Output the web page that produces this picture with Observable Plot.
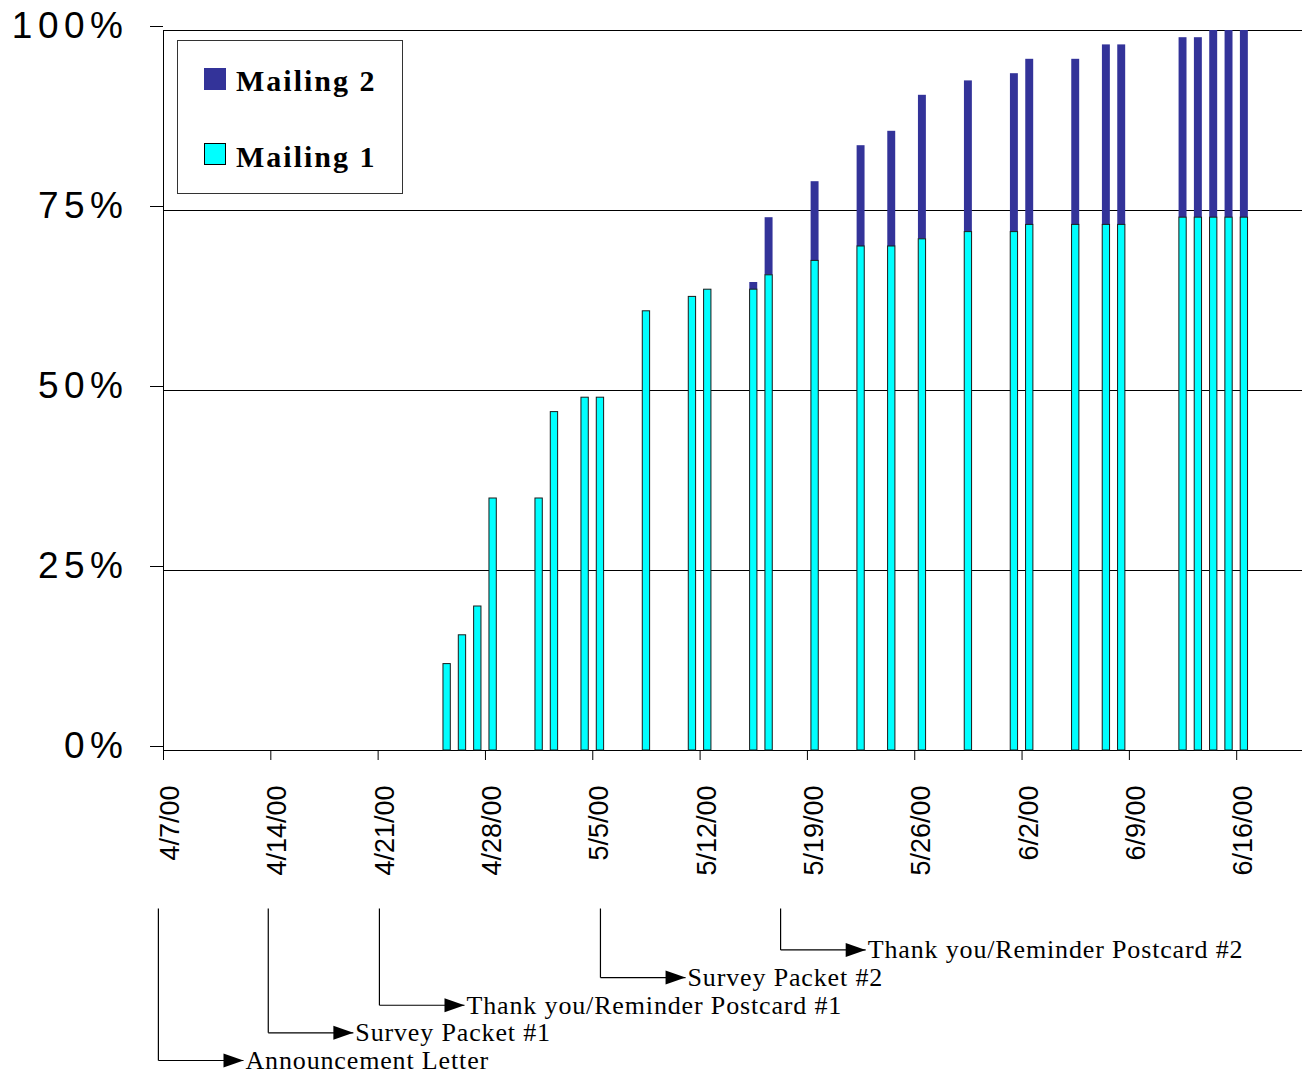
<!DOCTYPE html>
<html><head><meta charset="utf-8">
<script src="https://cdn.jsdelivr.net/npm/d3@7"></script>
<script src="https://cdn.jsdelivr.net/npm/@observablehq/plot@0.6"></script>
<style>
body{margin:0;background:#fff;}
#wrap{position:relative;width:1302px;height:1074px;overflow:hidden;}
#wrap svg{display:block;}
.p1 [aria-label="y-axis tick label"] text{letter-spacing:5.5px;}
.p2 text{letter-spacing:0.85px;}
#legend{position:absolute;left:177px;top:40px;width:224px;height:152px;border:1px solid #333;background:#fff;
  font-family:"Liberation Serif","Times New Roman",serif;font-weight:bold;font-size:30px;letter-spacing:2px;color:#000;}
.sw{position:absolute;left:26px;width:22px;height:22px;box-sizing:border-box;}
.lt{position:absolute;left:58px;line-height:1;white-space:nowrap;}
</style></head>
<body><div id="wrap"></div>
<script>
// ---- data ----
const barDates = ["2000-04-25","2000-04-26","2000-04-27","2000-04-28","2000-05-01","2000-05-02","2000-05-04","2000-05-05",
  "2000-05-08","2000-05-11","2000-05-12","2000-05-15","2000-05-16","2000-05-19","2000-05-22","2000-05-24","2000-05-26",
  "2000-05-29","2000-06-01","2000-06-02","2000-06-05","2000-06-07","2000-06-08","2000-06-12","2000-06-13","2000-06-14",
  "2000-06-15","2000-06-16"];
const mailing1 = [12,16,20,35,35,47,49,49,61,63,64,64,66,68,70,70,71,72,72,73,73,73,73,74,74,74,74,74];
const mailing2 = [0,0,0,0,0,0,0,0,0,0,0,1,8,11,14,16,20,21,22,23,23,25,25,25,25,26,26,26];
const seriesNames = ["Mailing 2","Mailing 1"];
const seriesColors = ["#333399","#00FFFF"];
const xTicks = ["2000-04-07","2000-04-14","2000-04-21","2000-04-28","2000-05-05","2000-05-12","2000-05-19",
  "2000-05-26","2000-06-02","2000-06-09","2000-06-16"];
const yTicks = [0,25,50,75,100];
const xDomain = ["2000-04-07","2000-06-20T07:00Z"];
const eventNames = ["Announcement Letter","Survey Packet #1","Thank you/Reminder Postcard #1","Survey Packet #2","Thank you/Reminder Postcard #2"];
const eventDates = ["2000-04-06T16:00Z","2000-04-13T20:00Z","2000-04-21T02:00Z","2000-05-05T12:00Z","2000-05-17T06:00Z"];
const eventLevels = [0,1,2,3,4];

// ---- tables ----
const rows = barDates.map((d,i)=>({date:d3.isoParse(d), m1:mailing1[i], m2:mailing2[i]}));
const xd = xDomain.map(d3.isoParse);
const tickDates = xTicks.map(d3.isoParse);
const arrowDays = 5.55;
const yTop = 5.5;
const evRows = eventNames.map((n,i)=>{const date=d3.isoParse(eventDates[i]);
  return {name:n, date, tip:new Date(+date + arrowDays*864e5), level:eventLevels[i]};});

const W = 1302, ML = 163, MR = 0;
const wrap = document.getElementById("wrap");

const p1 = Plot.plot({
  width: W, height: 900, marginLeft: ML, marginRight: MR, marginTop: 30, marginBottom: 150,
  className: "p1",
  style: {fontFamily: "'Liberation Sans', Arial, sans-serif", background: "#fff", color: "#000", overflow: "visible"},
  x: {type: "utc", domain: xd},
  y: {domain: [0,100]},
  marks: [
    Plot.ruleY(yTicks, {stroke: "#000", strokeWidth: 1}),
    Plot.ruleX([xd[0]], {y1: 0, y2: 100, stroke: "#000"}),
    Plot.rect(rows.filter(d=>d.m2>0), {x1: "date", x2: d=>d3.utcDay.offset(d.date,1), y1: "m1", y2: d=>d.m1+d.m2,
      fill: seriesColors[0], insetLeft: 3.7, insetRight: 3.7}),
    Plot.rect(rows, {x1: "date", x2: d=>d3.utcDay.offset(d.date,1), y1: 0, y2: "m1",
      fill: seriesColors[1], stroke: "#1a1a1a", strokeWidth: 1, insetLeft: 4, insetRight: 4}),
    Plot.axisY({ticks: yTicks, tickSize: 13, tickPadding: 22, tickFormat: d=>d+"%", fontSize: 37, label: null, dy: -4}),
    Plot.axisX({ticks: tickDates, tickSize: 10, tickFormat: () => "", label: null}),
    Plot.axisX({ticks: tickDates, tickSize: 0, tickPadding: 35, tickRotate: -90,
      tickFormat: d3.utcFormat("%-m/%-d/%y"), fontSize: 27, label: null, dx: 7, textAnchor: "end", lineAnchor: "middle"})
  ]
});
wrap.appendChild(p1);

const arrowHead = {draw(ctx){ ctx.moveTo(0,0); ctx.lineTo(-20,-7); ctx.lineTo(-20,7); ctx.closePath(); }};
const p2 = Plot.plot({
  width: W, height: 174, marginLeft: ML, marginRight: MR, marginTop: 8, marginBottom: 14,
  className: "p2",
  style: {fontFamily: "'Liberation Serif', 'Times New Roman', serif", background: "#fff", color: "#000", overflow: "visible"},
  x: {type: "utc", domain: xd, axis: null},
  y: {domain: [0, yTop], axis: null},
  marks: [
    Plot.link(evRows, {x1: "date", x2: "date", y1: yTop, y2: "level", stroke: "#000", strokeWidth: 1.2}),
    Plot.link(evRows, {x1: "date", x2: "tip", y1: "level", y2: "level", stroke: "#000", strokeWidth: 1.2}),
    Plot.dot(evRows, {x: "tip", y: "level", symbol: arrowHead, fill: "#000", stroke: "none"}),
    Plot.text(evRows, {x: "tip", y: "level", text: "name", textAnchor: "start", dx: 2, fontSize: 26, fill: "#000"})
  ]
});
wrap.appendChild(p2);

// legend
const lg = document.createElement("div"); lg.id = "legend";
const tops = [[27,25],[102,101]];
seriesNames.forEach((n,i)=>{
  const sw = document.createElement("div"); sw.className = "sw"; sw.style.top = tops[i][0]+"px";
  sw.style.background = seriesColors[i]; if (i===1) sw.style.border = "1px solid #000";
  const t = document.createElement("div"); t.className = "lt"; t.style.top = tops[i][1]+"px"; t.textContent = n;
  lg.appendChild(sw); lg.appendChild(t);
});
wrap.appendChild(lg);
</script>
</body></html>
